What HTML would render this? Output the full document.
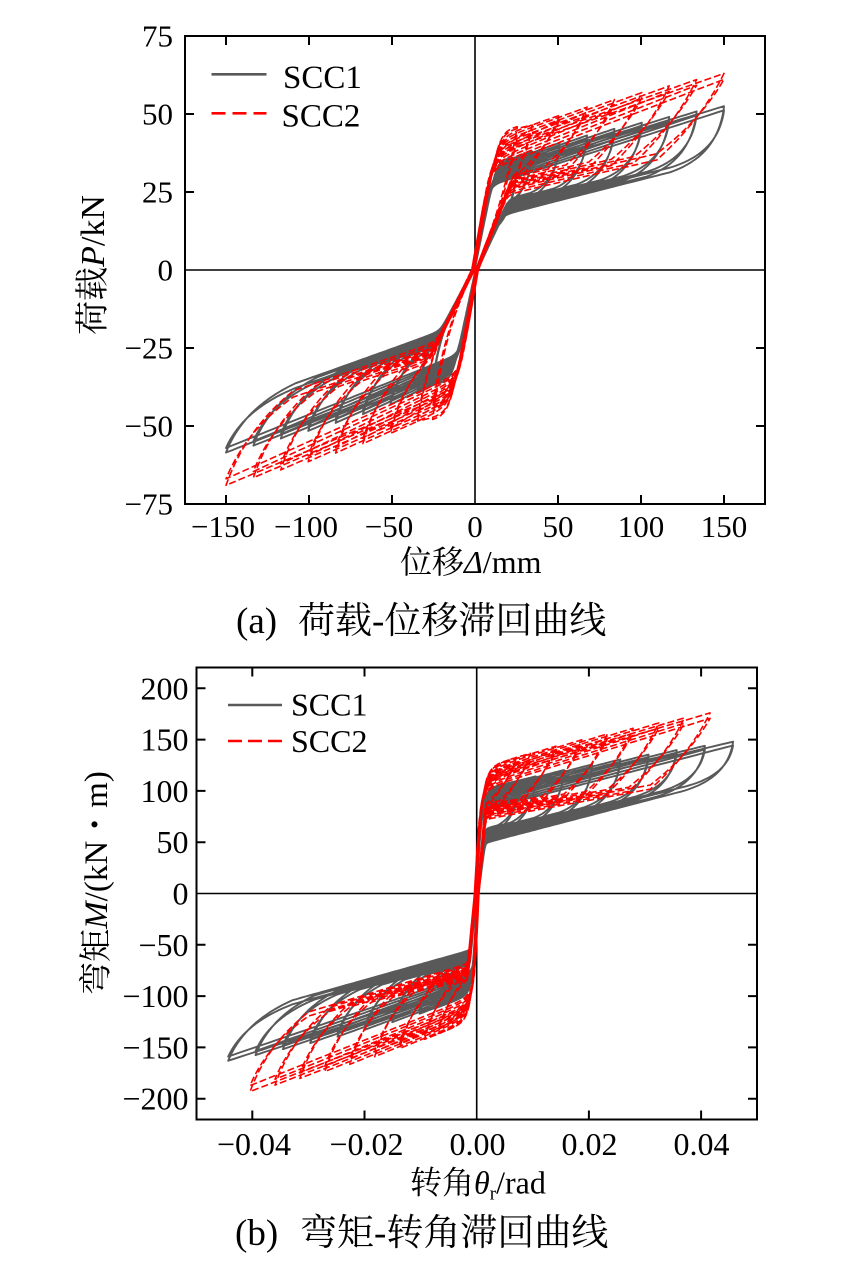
<!DOCTYPE html>
<html>
<head>
<meta charset="utf-8">
<style>
html,body{margin:0;padding:0;background:#fff;}
body{width:861px;height:1268px;overflow:hidden;}
svg text{font-family:"Liberation Serif","Noto Serif CJK SC",serif;fill:#000;}
</style>
</head>
<body>
<svg id="s" width="861" height="1268" viewBox="0 0 861 1268" xmlns="http://www.w3.org/2000/svg">
<rect width="861" height="1268" fill="#fff"/>
<defs>
<clipPath id="ca"><rect x="185" y="36" width="580" height="468"/></clipPath>
<clipPath id="cb"><rect x="196.5" y="667.5" width="560.5" height="452"/></clipPath>
</defs>

<!-- ===== Plot (a) ===== -->
<g stroke="#000" stroke-width="1.6" fill="none">
<line x1="185" y1="270" x2="765" y2="270"/>
<line x1="475" y1="36" x2="475" y2="504"/>
</g>
<g id="da" clip-path="url(#ca)"></g>
<g stroke="#000" stroke-width="2" fill="none">
<rect x="185" y="36" width="580" height="468"/>
<path d="M226 504v-9M309 504v-9M392 504v-9M558 504v-9M641 504v-9M724 504v-9"/>
<path d="M226 36v9M309 36v9M392 36v9M558 36v9M641 36v9M724 36v9"/>
<path d="M185 114h9M185 192h9M185 348h9M185 426h9"/>
<path d="M765 114h-9M765 192h-9M765 348h-9M765 426h-9"/>
</g>
<g font-size="31" text-anchor="end">
<text x="173" y="46.5">75</text>
<text x="173" y="124.5">50</text>
<text x="173" y="202.5">25</text>
<text x="173" y="280.5">0</text>
<text x="173" y="358.5">−25</text>
<text x="173" y="436.5">−50</text>
<text x="173" y="514.5">−75</text>
</g>
<g font-size="31" text-anchor="middle">
<text x="223" y="537">−150</text>
<text x="306" y="537">−100</text>
<text x="389" y="537">−50</text>
<text x="475" y="537">0</text>
<text x="558" y="537">50</text>
<text x="641" y="537">100</text>
<text x="724" y="537">150</text>
</g>
<line x1="211.5" y1="74.3" x2="266.5" y2="74.3" stroke="#595959" stroke-width="2.6"/>
<line x1="211.5" y1="113.3" x2="266.5" y2="113.3" stroke="#ff0000" stroke-width="2.6" stroke-dasharray="14 7"/>
<text x="283" y="88" font-size="33">SCC1</text>
<text x="281.5" y="126.5" font-size="33">SCC2</text>
<text x="400" y="573" font-size="32">位移<tspan font-style="italic">Δ</tspan>/mm</text>
<text transform="translate(104,265) rotate(-90)" font-size="34" text-anchor="middle">荷载<tspan font-style="italic">P</tspan>/kN</text>
<text x="236" y="633" font-size="37">(a)</text>
<text x="298" y="633" font-size="37">荷载-位移滞回曲线</text>

<!-- ===== Plot (b) ===== -->
<g stroke="#000" stroke-width="1.6" fill="none">
<line x1="196.5" y1="893.5" x2="757" y2="893.5"/>
<line x1="476.7" y1="667.5" x2="476.7" y2="1119.5"/>
</g>
<g id="db" clip-path="url(#cb)"></g>
<g stroke="#000" stroke-width="2" fill="none">
<rect x="196.5" y="667.5" width="560.5" height="452"/>
<path d="M252.3 1119.5v-9M364.5 1119.5v-9M588.9 1119.5v-9M701.1 1119.5v-9"/>
<path d="M252.3 667.5v9M364.5 667.5v9M588.9 667.5v9M701.1 667.5v9"/>
<path d="M196.5 688.3h9M196.5 739.6h9M196.5 790.9h9M196.5 842.2h9M196.5 944.8h9M196.5 996.1h9M196.5 1047.4h9M196.5 1098.7h9"/>
<path d="M757 688.3h-9M757 739.6h-9M757 790.9h-9M757 842.2h-9M757 944.8h-9M757 996.1h-9M757 1047.4h-9M757 1098.7h-9"/>
</g>
<g font-size="32" text-anchor="end">
<text x="188.5" y="699.3">200</text>
<text x="188.5" y="750.6">150</text>
<text x="188.5" y="801.9">100</text>
<text x="188.5" y="853.2">50</text>
<text x="188.5" y="904.5">0</text>
<text x="188.5" y="955.8">−50</text>
<text x="188.5" y="1007.1">−100</text>
<text x="188.5" y="1058.4">−150</text>
<text x="188.5" y="1109.7">−200</text>
</g>
<g font-size="32" text-anchor="middle">
<text x="254" y="1155">−0.04</text>
<text x="366.5" y="1155">−0.02</text>
<text x="477.5" y="1155">0.00</text>
<text x="589.5" y="1155">0.02</text>
<text x="701.5" y="1155">0.04</text>
</g>
<line x1="228" y1="705" x2="282" y2="705" stroke="#595959" stroke-width="2.6"/>
<line x1="228" y1="741" x2="282" y2="741" stroke="#ff0000" stroke-width="2.6" stroke-dasharray="14 6"/>
<text x="291" y="715.5" font-size="32">SCC1</text>
<text x="291" y="752" font-size="32">SCC2</text>
<text x="410" y="1193.5" font-size="32">转角<tspan font-style="italic">θ</tspan><tspan font-size="19" dy="6">r</tspan><tspan dy="-6">/rad</tspan></text>
<text transform="translate(107,883) rotate(-90)" font-size="33" text-anchor="middle">弯矩<tspan font-style="italic">M</tspan>/(kN・m)</text>
<text x="235" y="1245" font-size="37">(b)</text>
<text x="300" y="1245" font-size="37">弯矩-转角滞回曲线</text>
</svg>

<script>
(function(){
var NS="http://www.w3.org/2000/svg";
function sm(a,b,c){return (a+b-Math.sqrt((a-b)*(a-b)+c*c))/2;}
function pmin(a,b,n){if(a<=0)return 0;return Math.pow(Math.pow(a,-n)+Math.pow(b,-n),-1/n);}
function half(f,p,k2){
  var A=f*p.A;
  var r=p.r*f;
  var hkA=p.hk+p.hs*(0.5-f)-(k2?p.hs2:0);
  var E=p.hk+(p.P-p.hk)*Math.pow(Math.max(A-p.xk,0)/(p.A-p.xk),p.pw);
  if(k2)E*=p.deg;
  E=Math.max(E,hkA+0.01*p.P);
  var xk=Math.min(p.xk,0.6*A);
  var s=(E-hkA)/(A-xk);
  var fl=0.3*hkA;
  var U=function(x){var b=Math.max(hkA+s*(x-xk),fl);return pmin(p.ke*(x+r),b,p.n);};
  var off=p.off*(1-f)+(k2?p.off2:0);
  var D=function(x){return sm(p.kr*(x-r),p.y0+p.sl*(x-p.x0)+off,p.c2);};
  var pts=[],N=70,i,x;
  for(i=0;i<=N;i++){x=-r+(A+r)*Math.pow(i/N,1.7);pts.push([x,U(x)]);}
  var Pk=U(A);
  var ea=p.e0+p.ra*A;
  var xe=A-ea; if(xe<2*r)xe=2*r;
  var De=D(xe);
  ea=A-xe;var dh=Pk-De;
  var cx=A-p.al*ea,cy=Pk-p.be*dh;
  for(i=1;i<=20;i++){var t=i/20,u=1-t;pts.push([u*u*A+2*u*t*cx+t*t*xe,u*u*Pk+2*u*t*cy+t*t*De]);}
  for(i=1;i<=N;i++){x=r+(xe-r)*Math.pow(1-i/N,1.7);pts.push([x,D(x)]);}
  return pts;
}
function series(pp,pn,fr,map){
  var d="";
  fr.forEach(function(f){[0,1].forEach(function(k2){
    var P1=half(f,pp,k2),P2=half(f,pn,k2);
    P1.forEach(function(q){var r=map(q[0],q[1]);d+=(d?"L":"M")+r[0].toFixed(1)+" "+r[1].toFixed(1);});
    P2.forEach(function(q){var r=map(-q[0],-q[1]);d+="L"+r[0].toFixed(1)+" "+r[1].toFixed(1);});
  });});
  return d;
}
function addPath(g,d,stroke,w,dash){
  var p=document.createElementNS(NS,"path");
  p.setAttribute("d",d);p.setAttribute("fill","none");
  p.setAttribute("stroke",stroke);p.setAttribute("stroke-width",w);
  p.setAttribute("stroke-linejoin","round");
  if(dash)p.setAttribute("stroke-dasharray",dash);
  g.appendChild(p);
}
var fr=[0.17,0.23,0.34,0.45,0.56,0.67,0.78,0.89,1.0];
var mapA=function(x,y){return [475+1.66*x,270-3.12*y];};
var mapB=function(x,y){return [476.7+5610*x,893.5-1.026*y];};

var gAp={A:150,P:52.5,hk:34,hs:5,hs2:2.5,xk:20,pw:0.7,ke:2.6,n:8,kr:1.15,y0:17.5,x0:15,sl:0.135,off:5,off2:1.5,c2:2,e0:10,ra:0.15,al:0.1,be:0.75,deg:0.975,r:1.5};
var gAn={A:150,P:58.5,hk:34.2,hs:5,hs2:2.5,xk:20,pw:0.7,ke:2.5,n:8,kr:1.02,y0:19.4,x0:19,sl:0.19,off:5,off2:1.5,c2:2,e0:12,ra:0.2,al:0.25,be:0.65,deg:0.975,r:1.5};
var rAp={A:150,P:63,hk:43,hs:8,hs2:4,xk:22,pw:0.75,ke:3.0,n:6,kr:1.4,y0:24,x0:17,sl:0.122,off:7,off2:2,c2:2.5,e0:15,ra:0.17,al:0.35,be:0.55,deg:0.97,r:2};
var rAn={A:150,P:69,hk:45,hs:8,hs2:4,xk:25,pw:0.75,ke:3.0,n:6,kr:1.1,y0:23,x0:22,sl:0.18,off:7,off2:2,c2:2.5,e0:15,ra:0.17,al:0.3,be:0.6,deg:0.97,r:2};

var gBp={A:0.0457,P:148,hk:100,hs:16,hs2:8,xk:0.003,pw:0.7,ke:90000,n:3,kr:40833,y0:49,x0:0.0012,sl:1429,off:12,off2:4,c2:6,e0:0.003,ra:0.14,al:0.1,be:0.75,deg:0.975,r:0.0003};
var gBn={A:0.0443,P:163,hk:96,hs:16,hs2:8,xk:0.002,pw:0.7,ke:110000,n:3,kr:61000,y0:55,x0:0.0009,sl:1535,off:12,off2:4,c2:6,e0:0.0035,ra:0.18,al:0.25,be:0.65,deg:0.975,r:0.0003};
var rBp={A:0.0416,P:176,hk:122,hs:18,hs2:8,xk:0.0025,pw:0.75,ke:100000,n:2.5,kr:60000,y0:72,x0:0.0012,sl:1000,off:15,off2:4,c2:7,e0:0.004,ra:0.16,al:0.35,be:0.55,deg:0.97,r:0.0004};
var rBn={A:0.0404,P:193,hk:122,hs:20,hs2:8,xk:0.002,pw:0.75,ke:120000,n:2.5,kr:57000,y0:68,x0:0.0012,sl:1650,off:15,off2:4,c2:7,e0:0.004,ra:0.16,al:0.3,be:0.6,deg:0.97,r:0.0004};

var ga=document.getElementById("da"),gb=document.getElementById("db");
addPath(ga,series(gAp,gAn,fr,mapA),"#595959",1.9,null);
addPath(ga,series(rAp,rAn,fr,mapA),"#ff0000",1.6,"7 3");
addPath(gb,series(gBp,gBn,fr,mapB),"#595959",1.9,null);
addPath(gb,series(rBp,rBn,fr,mapB),"#ff0000",1.6,"7 3");
})();
</script>
</body>
</html>
